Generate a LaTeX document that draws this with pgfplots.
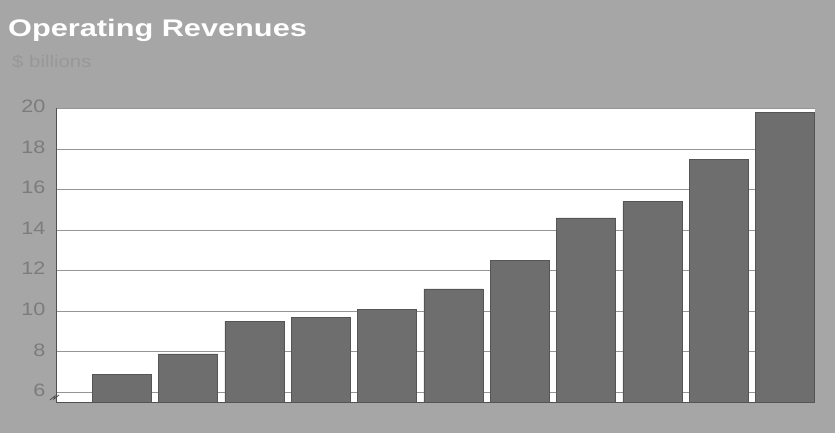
\documentclass[border=0pt]{standalone}
\usepackage{pgfplots}
\pgfplotsset{compat=1.18}
\usepackage{fontspec}
\setmainfont{Liberation Sans}
\definecolor{bg}{HTML}{A6A6A6}
\definecolor{barc}{HTML}{6E6E6E}
\definecolor{barline}{HTML}{555555}
\definecolor{tickc}{HTML}{7C7C7C}
\definecolor{gridc}{HTML}{959595}
\definecolor{subc}{HTML}{989898}
\definecolor{axc}{HTML}{505050}
\begin{document}
\begin{tikzpicture}[x=1bp,y=1bp]
\fill[bg] (0,0) rectangle (835,433);
\useasboundingbox (0,0) rectangle (835,433);
\node[anchor=base west, text=white, font=\fontsize{24bp}{28bp}\selectfont\bfseries, inner sep=0] at (8,396) {\scalebox{1.28}[1]{Operating Revenues}};
\node[anchor=base west, text=subc, font=\fontsize{17bp}{20bp}\selectfont, inner sep=0] at (12,365) {\scalebox{1.2}[1]{\$ billions}};
\begin{axis}[
  at={(56bp,30.5bp)}, anchor=south west,
  scale only axis, width=759bp, height=294bp,
  xmin=-0.99, xmax=10.45, ymin=5.5, ymax=20,
  ytick={6,8,...,20}, xtick=\empty,
  axis x line*=bottom, axis y line*=left,
  axis line style={axc, line width=1bp, -},
  axis background/.style={fill=white},
  ymajorgrids, grid style={gridc, line width=0.8bp},
  major tick length=0pt,
  /pgf/number format/assume math mode=true,
  yticklabel={\scalebox{1.2}[1]{\pgfmathprintnumber{\tick}}},
  yticklabel style={font=\fontsize{18bp}{18bp}\selectfont, text=tickc, anchor=east, xshift=-7bp, yshift=2bp},
  ybar, bar width=0.89,
]
\addplot[fill=barc, draw=barline, line width=0.6bp] coordinates {
(0,6.9) (1,7.9) (2,9.5) (3,9.7) (4,10.1) (5,11.1) (6,12.5) (7,14.6) (8,15.4) (9,17.5) (10,19.8)};
\end{axis}
\draw[axc, line width=0.8bp] (50,33) -- (55,37) -- (54,34) -- (59,38);
\end{tikzpicture}
\end{document}
